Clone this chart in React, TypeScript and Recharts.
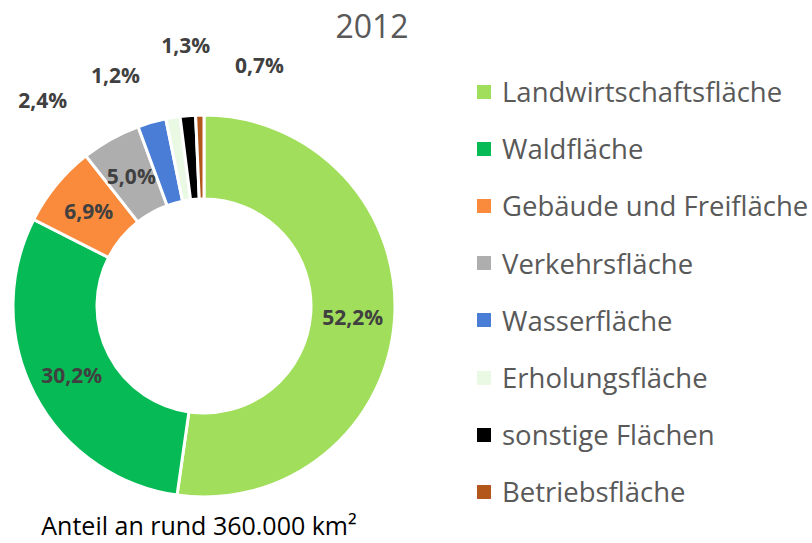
import { PieChart, Pie, Cell, Legend } from "recharts"

const categories = [
  "Landwirtschaftsfläche",
  "Waldfläche",
  "Gebäude und Freifläche",
  "Verkehrsfläche",
  "Wasserfläche",
  "Erholungsfläche",
  "sonstige Flächen",
  "Betriebsfläche",
]
const shares = [52.2, 30.2, 6.9, 5.0, 2.4, 1.2, 1.3, 0.7]
const colors = ["#A0DE5B", "#06BB55", "#FA8B3C", "#AEAEAE", "#4A7DD6", "#EAF9E4", "#000000", "#B3561C"]
const title = "2012"
const caption = "Anteil an rund 360.000 km²"

const data = categories.map((name, i) => ({ name, value: shares[i] }))

const FONT = "'Open Sans', 'Noto Sans', sans-serif"
const RAD = Math.PI / 180

// Excel puts the tiny slices' labels outside and fans them out
const renderLabel = (props: any) => {
  const { cx, cy, midAngle, innerRadius, outerRadius, value, index } = props
  let angle = midAngle
  let r = (innerRadius + outerRadius) / 2
  if (value < 3) {
    const k = index - data.findIndex((d) => d.value < 3)
    angle = 128 - 17 * k
    r = k % 2 === 0 ? 262 : 247
  }
  const x = cx + r * Math.cos(-angle * RAD)
  const y = cy + r * Math.sin(-angle * RAD)
  return (
    <text
      x={x}
      y={y}
      textAnchor="middle"
      dominantBaseline="central"
      fill="#404040"
      fontFamily={FONT}
      fontWeight={700}
      fontSize={21}
    >
      {value.toFixed(1).replace(".", ",")}%
    </text>
  )
}

const renderLegend = (props: any) => {
  const items = [...props.payload].sort(
    (a: any, b: any) => categories.indexOf(a.value) - categories.indexOf(b.value)
  )
  return (
    <div style={{ fontFamily: FONT }}>
      {items.map((p: any) => (
        <div key={p.value} style={{ display: "flex", alignItems: "center", height: 57.2 }}>
          <span style={{ width: 14, height: 14, background: p.color, marginRight: 11, flexShrink: 0 }} />
          <span style={{ fontSize: 27.5, color: "#595959", whiteSpace: "nowrap" }}>{p.value}</span>
        </div>
      ))}
    </div>
  )
}

export default function App() {
  return (
    <div style={{ position: "absolute", left: 0, top: 0, width: 812, height: 543, background: "#fff" }}>
      <div
        style={{
          position: "absolute",
          left: 322,
          top: 4,
          width: 100,
          textAlign: "center",
          fontFamily: FONT,
          fontSize: 32,
          color: "#595959",
        }}
      >
        {title}
      </div>
      <PieChart width={812} height={543} margin={{ top: 0, right: 0, bottom: 0, left: 0 }}>
        <Pie
          data={data}
          dataKey="value"
          nameKey="name"
          cx={204}
          cy={306}
          innerRadius={107}
          outerRadius={191}
          startAngle={90}
          endAngle={-270}
          stroke="#fff"
          strokeWidth={3}
          label={renderLabel}
          labelLine={false}
          isAnimationActive={false}
        >
          {data.map((d, i) => (
            <Cell key={d.name} fill={colors[i]} />
          ))}
        </Pie>
        <Legend
          layout="vertical"
          align="right"
          verticalAlign="top"
          content={renderLegend}
          wrapperStyle={{ left: 477, top: 63, width: 335 }}
        />
      </PieChart>
      <div
        style={{
          position: "absolute",
          left: 0,
          top: 508,
          width: 398,
          textAlign: "center",
          fontFamily: FONT,
          fontSize: 25,
          color: "#000",
        }}
      >
        {caption}
      </div>
    </div>
  )
}
